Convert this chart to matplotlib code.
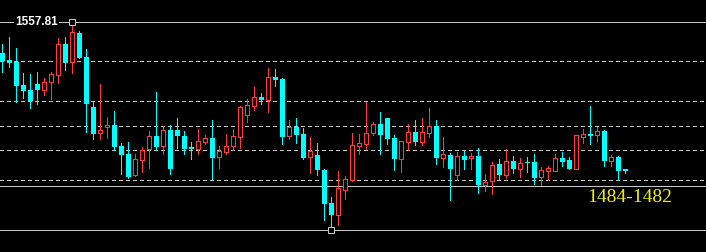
import matplotlib.pyplot as plt
import matplotlib.transforms as mtransforms
import numpy as np

# OHLC (90 bars)
opens = [1543.64, 1540.71, 1539.81, 1529.46, 1527.21, 1529.91, 1527.35, 1530.95, 1534.10, 1548.05,
         1539.68, 1552.86, 1542.06, 1519.56, 1507.64, 1510.34, 1511.46, 1502.01, 1498.41, 1488.96,
         1495.49, 1500.44, 1506.51, 1501.79, 1509.21, 1509.21, 1506.51, 1501.56, 1500.66, 1503.81,
         1505.61, 1497.06, 1499.31, 1502.01, 1506.06, 1515.96, 1520.01, 1524.06, 1522.71, 1533.06,
         1532.16, 1506.51, 1510.56, 1507.41, 1497.06, 1497.96, 1491.21, 1476.36, 1470.96, 1482.21,
         1486.71, 1502.01, 1502.91, 1507.86, 1511.91, 1514.61, 1505.61, 1496.16, 1503.81, 1508.31,
         1503.81, 1507.86, 1511.01, 1496.61, 1497.96, 1488.96, 1497.51, 1496.48, 1497.51, 1484.46,
         1486.26, 1493.91, 1488.96, 1495.26, 1491.66, 1494.81, 1494.81, 1488.06, 1490.76, 1490.76,
         1496.61, 1495.71, 1491.66, 1506.06, 1507.41, 1506.96, 1508.76, 1495.26, 1497.06, 1491.66]
highs = [1547.91, 1551.06, 1546.11, 1534.86, 1534.41, 1535.31, 1532.61, 1535.45, 1550.75, 1551.20,
         1557.81, 1553.90, 1545.66, 1522.04, 1529.91, 1515.06, 1517.76, 1503.36, 1503.81, 1498.41,
         1501.56, 1508.76, 1526.31, 1511.01, 1511.46, 1514.61, 1508.76, 1503.81, 1509.66, 1506.96,
         1513.71, 1502.01, 1507.41, 1509.66, 1520.01, 1523.16, 1528.56, 1525.86, 1537.11, 1536.66,
         1532.61, 1513.71, 1514.61, 1510.11, 1506.06, 1503.36, 1491.66, 1479.06, 1490.76, 1488.51,
         1507.86, 1507.41, 1521.81, 1512.81, 1517.31, 1514.61, 1506.96, 1504.26, 1511.91, 1513.71,
         1514.61, 1519.11, 1513.71, 1506.06, 1498.86, 1499.31, 1499.76, 1498.86, 1501.11, 1489.41,
         1494.81, 1496.16, 1500.66, 1497.51, 1496.61, 1497.06, 1498.41, 1492.56, 1493.01, 1498.41,
         1499.31, 1497.06, 1506.96, 1509.66, 1520.01, 1510.56, 1509.21, 1497.96, 1497.51, 1491.66]
lows = [1535.09, 1537.70, 1521.59, 1523.75, 1519.25, 1521.05, 1524.96, 1523.30, 1530.50, 1536.21,
        1535.00, 1541.61, 1508.45, 1505.30, 1505.16, 1505.75, 1500.21, 1489.41, 1487.61, 1488.51,
        1490.09, 1492.11, 1500.21, 1498.41, 1489.19, 1501.11, 1498.41, 1496.16, 1498.41, 1502.91,
        1486.71, 1492.11, 1498.41, 1500.21, 1501.11, 1512.81, 1518.21, 1520.91, 1517.31, 1529.01,
        1502.91, 1505.16, 1503.36, 1496.16, 1489.86, 1488.96, 1468.71, 1464.21, 1466.46, 1478.16,
        1486.26, 1498.41, 1500.66, 1506.96, 1498.41, 1502.91, 1491.21, 1490.31, 1500.21, 1502.46,
        1502.46, 1506.06, 1493.91, 1492.56, 1477.71, 1486.71, 1491.66, 1491.66, 1480.86, 1481.76,
        1480.41, 1486.71, 1487.61, 1489.86, 1488.06, 1490.31, 1484.91, 1484.46, 1486.49, 1490.76,
        1493.01, 1491.44, 1491.66, 1503.36, 1502.91, 1504.26, 1493.01, 1493.01, 1486.71, 1489.86]
closes = [1540.26, 1539.50, 1529.15, 1526.90, 1522.26, 1527.35, 1530.81, 1534.41, 1547.91, 1539.50,
          1553.31, 1541.75, 1520.69, 1507.41, 1509.21, 1511.46, 1501.70, 1498.10, 1488.06, 1496.03,
          1500.08, 1506.51, 1501.56, 1509.21, 1491.66, 1506.51, 1500.53, 1500.53, 1504.26, 1505.61,
          1496.61, 1499.76, 1502.01, 1506.51, 1519.56, 1520.46, 1524.06, 1522.71, 1533.06, 1531.71,
          1506.06, 1510.56, 1506.96, 1496.61, 1499.76, 1491.21, 1475.91, 1470.96, 1483.11, 1487.16,
          1502.46, 1503.36, 1507.86, 1511.91, 1506.96, 1505.16, 1496.16, 1504.26, 1508.31, 1503.81,
          1508.31, 1511.01, 1496.61, 1498.41, 1491.66, 1497.51, 1495.71, 1497.51, 1484.46, 1485.81,
          1493.46, 1488.96, 1495.26, 1491.66, 1494.36, 1494.36, 1487.61, 1491.21, 1492.11, 1496.61,
          1494.81, 1491.66, 1506.96, 1507.41, 1506.51, 1508.76, 1495.26, 1497.06, 1490.76, 1490.76]

dash_levels = [1540.13, 1522.13, 1510.88, 1500.08, 1486.58]
solid_level = 1483.88
range_label = "1484-1482"

o = np.array(opens)
h = np.array(highs)
l = np.array(lows)
c = np.array(closes)
x = np.arange(len(o))
up = c >= o

RED = '#ff3c3c'
CYAN = '#00ffff'
GRID = '#c8c8c8'
PX = 0.72  # one pixel in points

fig = plt.figure(figsize=(7.06, 2.52), dpi=100)
fig.patch.set_facecolor('black')
ax = fig.add_axes([0, 0, 1, 1])
ax.set_facecolor('black')
ax.set_axis_off()
ax.set_xlim(-0.33, -0.33 + 706 / 7)
ax.set_ylim(1454.31, 1567.71)
ypx = (1567.71 - 1454.31) / 252

# horizontal levels
for lv in dash_levels:
    ax.axhline(lv, color=GRID, lw=PX, dashes=(4, 3), antialiased=False, zorder=1)
for lv in [solid_level, h.max(), l.min()]:
    ax.axhline(lv, color=GRID, lw=PX, antialiased=False, zorder=1)

# down bars: filled cyan
d = ~up
ax.vlines(x[d], l[d], h[d], color=CYAN, lw=PX, antialiased=False, zorder=2)
dh = np.maximum(o[d] - c[d], ypx)
ax.bar(x[d], dh, bottom=c[d], width=5 / 7, color=CYAN, linewidth=0,
       antialiased=False, zorder=3)

# up bars: hollow red
ax.vlines(x[up], c[up], h[up], color=RED, lw=PX, antialiased=False, zorder=2)
ax.vlines(x[up], l[up], o[up], color=RED, lw=PX, antialiased=False, zorder=2)
uh = np.maximum(c[up] - o[up], ypx)
ax.bar(x[up], uh, bottom=o[up], width=4 / 7, facecolor='black', edgecolor=RED,
       linewidth=PX, antialiased=False, zorder=3)

# high / low markers
ax.plot(x[h.argmax()], h.max(), marker='s', ms=5, mfc='black', mec=GRID, mew=PX, zorder=4)
ax.plot(x[l.argmin()], l.min(), marker='s', ms=5, mfc='black', mec=GRID, mew=PX, zorder=4)

trans = mtransforms.blended_transform_factory(ax.transAxes, ax.transData)
ax.text(15 / 706, h.max(), f"{h.max():.2f}", transform=trans, color='white',
        fontsize=8.5, family='Liberation Sans', fontweight='bold', va='center', ha='left',
        bbox=dict(facecolor='black', edgecolor='none', pad=1), zorder=5)

ax.text(630 / 706, 1 - 198 / 252, range_label, transform=ax.transAxes, color='#f0f000',
        fontsize=14, family='Liberation Serif', va='center', ha='center', zorder=5)

fig.savefig('out.png', dpi=100, facecolor='black')
